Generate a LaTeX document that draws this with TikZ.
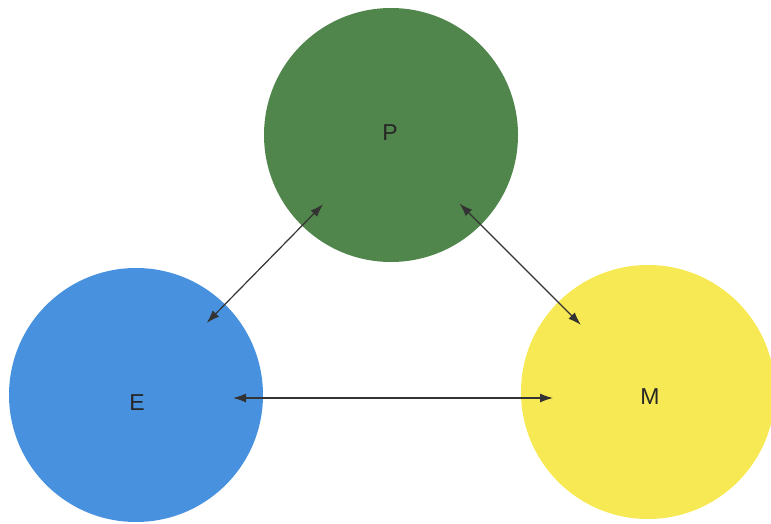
\documentclass[tikz,border=0pt]{standalone}
\usepackage{fontspec}
\setmainfont{Liberation Sans}
\usetikzlibrary{arrows.meta}
\definecolor{pgreen}{RGB}{80,133,76}
\definecolor{eblue}{RGB}{72,145,222}
\definecolor{myellow}{RGB}{247,233,84}
\begin{document}
\begin{tikzpicture}[x=1pt, y=-1pt,
  ball/.style={circle, minimum size=254pt, inner sep=0pt},
  lbl/.style={text=black!85, font=\fontsize{23}{26}\selectfont},
  link/.style={{Latex[length=13pt,width=9pt]}-{Latex[length=13pt,width=9pt]}, line width=1.2pt, black!80, shorten <=97pt, shorten >=97pt}]
\useasboundingbox (0,0) rectangle (771,524);
\node[ball, fill=pgreen] (P) at (391,135) {};
\node[ball, fill=eblue] (E) at (136,395) {};
\node[ball, fill=myellow, minimum size=254pt] (M) at (648,392) {};
\node[lbl] (Plbl) at (390,133) {P};
\node[lbl] (Elbl) at (137,403) {E};
\node[lbl] (Mlbl) at (650,397) {M};
\draw[link, shorten >=101pt] (P.center) -- (E.center);
\draw[link, shorten >=95pt] (P.center) -- (M.center);
\draw[link, shorten >=95pt] ([yshift=-3pt]E.center) -- ([yshift=-6pt]M.center);
\end{tikzpicture}
\end{document}
